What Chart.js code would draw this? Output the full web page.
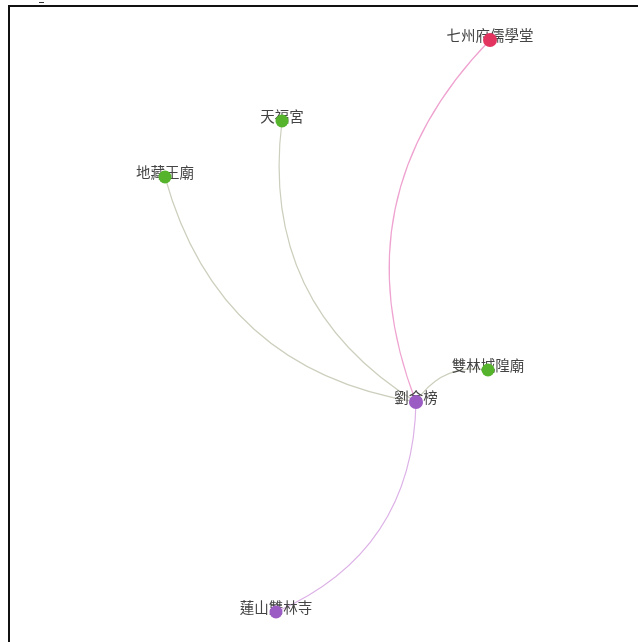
<!DOCTYPE html>
<html>
<head>
<meta charset="utf-8">
<script src="https://cdn.jsdelivr.net/npm/chart.js@4"></script>
<style>
  body { margin: 0; background: #fff; }
  .wrap { position: relative; width: 638px; height: 642px; }
  .frame { position: absolute; left: 8px; top: 5px; right: 0; bottom: 0;
           border-left: 2px solid #111; border-top: 2px solid #111; }
  .tick { position: absolute; left: 39px; top: 2px; width: 5px; height: 1px; background: #333; }
  canvas { position: absolute; left: 0; top: 0; }
</style>
</head>
<body>
<div class="wrap">
  <div class="frame"></div>
  <div class="tick"></div>
  <canvas id="graph" width="638" height="642"></canvas>
</div>
<script>
// nodes
const nodeNames = ['劉金榜', '七州府儒學堂', '天福宮', '地藏王廟', '雙林城隍廟', '蓮山雙林寺'];
const nodeX = [416, 490, 282, 165, 488, 276];
const nodeY = [402, 40, 121, 177, 370, 612];
const nodeColors = ['#9b5cc4', '#e3345f', '#56b32c', '#56b32c', '#56b32c', '#9b5cc4'];
const nodeSizes = [7, 7, 6.5, 6.5, 6.5, 6.5];

// edges (index into nodes)
const edgeFrom = [0, 0, 0, 0, 0];
const edgeTo = [1, 2, 3, 4, 5];
const edgeColors = ['#efa3d0', '#cdcfbe', '#cdcfbe', '#cdcfbe', '#ddb2e7'];

const points = nodeNames.map((n, i) => ({x: nodeX[i], y: nodeY[i]}));

// edges + labels drawn behind the nodes
const graphPlugin = {
    id: 'graphPlugin',
    beforeDatasetsDraw(chart) {
        const ctx = chart.ctx;
        const xs = chart.scales.x;
        const ys = chart.scales.y;
        ctx.save();
        ctx.lineWidth = 1.2;
        edgeFrom.forEach((s, i) => {
            const t = edgeTo[i];
            const x1 = xs.getPixelForValue(nodeX[s]), y1 = ys.getPixelForValue(nodeY[s]);
            const x2 = xs.getPixelForValue(nodeX[t]), y2 = ys.getPixelForValue(nodeY[t]);
            const dx = x2 - x1, dy = y2 - y1;
            // clockwise bend
            const cx = (x1 + x2) / 2 + dy * 0.32;
            const cy = (y1 + y2) / 2 - dx * 0.32;
            ctx.strokeStyle = edgeColors[i];
            ctx.beginPath();
            ctx.moveTo(x1, y1);
            ctx.quadraticCurveTo(cx, cy, x2, y2);
            ctx.stroke();
        });

        ctx.font = '14.5px "Noto Sans CJK TC", "Noto Sans CJK SC", sans-serif';
        ctx.fillStyle = '#444';
        ctx.textAlign = 'center';
        ctx.textBaseline = 'middle';
        nodeNames.forEach((name, i) => {
            ctx.fillText(name, xs.getPixelForValue(nodeX[i]), ys.getPixelForValue(nodeY[i]) - 5);
        });
        ctx.restore();
    }
};

new Chart(document.getElementById('graph'), {
    type: 'scatter',
    data: {
        datasets: [{
            data: points,
            backgroundColor: nodeColors,
            borderColor: nodeColors,
            borderWidth: 0,
            pointRadius: nodeSizes,
            pointHoverRadius: nodeSizes,
            clip: false
        }]
    },
    options: {
        responsive: false,
        animation: false,
        layout: { padding: 0, autoPadding: false },
        plugins: { legend: { display: false }, tooltip: { enabled: false } },
        scales: {
            x: { type: 'linear', min: 0, max: 638, display: false },
            y: { type: 'linear', min: 0, max: 642, reverse: true, display: false }
        }
    },
    plugins: [graphPlugin]
});
</script>
</body>
</html>
